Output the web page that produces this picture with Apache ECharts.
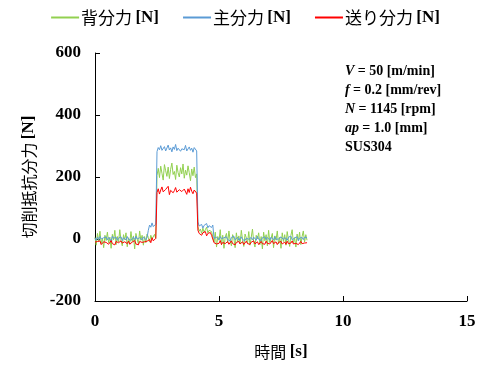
<!DOCTYPE html>
<html>
<head>
<meta charset="utf-8">
<script src="https://cdn.jsdelivr.net/npm/echarts@6/dist/echarts.min.js"></script>
<style>
html, body { margin: 0; padding: 0; background: #fff; }
#chart { width: 491px; height: 378px; }
</style>
</head>
<body>
<div id="chart"></div>
<script>
// sampling interval [s]
var dt = 0.05;

var seriesNames = ["背分力", "主分力", "送り分力"];
var xTicks = [0, 5, 10, 15];
var yTicks = [-200, 0, 200, 400, 600];

// 主分力 [N]
var mainForce = [
    3, -4, 6, -2, 8, 0, -5, 4, -1, 7,
    -3, 5, 1, -6, 9, 2, -2, 6, -4, 3,
    0, 7, -5, 4, 1, -3, 8, -1, 5, -4,
    2, 6, -2, 9, 0, -5, 4, 3, -3, 7,
    1, -2, 5,
    28, 45, 38, 52, 40, 35, 48,
    282, 295, 288, 301, 286, 292, 298, 284, 290, 303,
    287, 294, 281, 297, 289, 305, 285, 293, 299, 283,
    291, 296, 288, 302, 284, 290, 297, 286, 293, 280,
    295, 289, 284,
    55, 42, 38, 47, 35, 44, 39, 50, 36, 43, 40, 37, 45,
    2, -4, 6, 0, -3, 8, 1, -5, 4, -1,
    7, -2, 3, -6, 5, 0, 9, -3, 2, 6,
    -4, 1, 7, -2, 4, -5, 3, 8, -1, 0,
    5, -3, 6, 2, -4, 9, -1, 3, -5, 4,
    1, 7, -2, 5, 0, -4, 6, 2, -3, 8,
    -1, 4, 0, -5, 7, 3, -2, 5, 1, -4,
    6, 0, 9, -3, 2, 4, -1, 7, -5, 3,
    1, 5, -2, 6, 0, 4
];

// 背分力 [N]
var backForce = [
    5, -20, 18, -8, 25, -15, 2, -28, 12, -5,
    22, -12, 6, -30, 15, -3, 28, -18, 8, -10,
    30, -6, -22, 14, -2, 20, -25, 4, -14, 24,
    -8, 10, -32, 18, 0, -16, 26, -4, 12, -20,
    8, -12, 16,
    5, -10, 12, 0, -6, 15, 2,
    205, 228, 198, 235, 212, 190, 240, 220, 202, 232,
    195, 225, 245, 208, 218, 192, 238, 214, 200, 230,
    210, 242, 196, 222, 206, 236, 214, 188, 226, 204,
    232, 198, 210,
    40, 25, 32, 18, 35, 22, 30, 38, 20, 28, 34, 24, 30,
    -10, 22, -26, 8, -4, 30, -18, 12, -30, 6,
    18, -12, 26, -6, -22, 14, 2, -28, 20, -8,
    10, -16, 28, -2, -24, 16, 4, -14, 24, -20,
    6, 32, -10, -26, 12, 0, 20, -18, 8, -32,
    22, -6, 14, -22, 28, -12, 2, 18, -28, 10,
    -4, 26, -16, 6, -30, 20, -8, 14, -20, 24,
    -2, -24, 12, 30, -14, 4, -26, 16, -6, 22,
    -18, 8, 26, -10, 14, -4
];

// 送り分力 [N]
var feedForce = [
    -10, -16, -8, -14, -6, -18, -12, -9, -15, -11,
    -7, -17, -13, -5, -15, -10, -19, -8, -14, -12,
    -16, -6, -13, -18, -9, -11, -15, -7, -17, -12,
    -10, -14, -5, -16, -12, -19, -8, -13, -11, -15,
    -9, -14, -7,
    -8, -2, -12, 4, -6, -10, 2,
    150, 162, 145, 158, 168, 152, 147, 160, 155, 170,
    143, 157, 163, 149, 156, 166, 151, 146, 159, 164,
    153, 148, 161, 157, 144, 162, 150, 167, 154, 146,
    158, 152, 148,
    28, 18, 22, 12, 20, 15, 24, 10, 18, 14, 21, 12, 16,
    -12, -7, -16, -10, -14, -5, -18, -11, -9, -15,
    -13, -8, -17, -12, -6, -15, -10, -19, -11, -14,
    -8, -16, -12, -9, -18, -13, -7, -15, -11, -17,
    -10, -14, -6, -16, -12, -9, -18, -13, -8, -15,
    -11, -17, -7, -14, -10, -16, -12, -5, -15, -13,
    -9, -18, -11, -14, -8, -16, -12, -10, -17, -7,
    -15, -11, -13, -6, -16, -10, -14, -9, -18, -12,
    -8, -15, -11, -13, -7, -12
];

var colors = ["#92d050", "#5b9bd5", "#ff0000"];
var serif = "Liberation Serif";
var jp = "Noto Sans CJK JP";

function toPairs(values) {
    var pairs = [];
    for (var i = 0; i < values.length; i++) {
        pairs.push([+(i * dt).toFixed(2), values[i]]);
    }
    return pairs;
}

var chart = echarts.init(document.getElementById("chart"));

var option = {
    animation: false,
    color: colors,
    legend: {
        top: 4,
        left: "center",
        itemGap: 24,
        itemWidth: 28,
        itemHeight: 2,
        icon: "rect",
        data: seriesNames,
        formatter: function(name) {
            return "{a|" + name + "} {b|[N]}";
        },
        textStyle: {
            padding: [0, 0, 0, -3],
            rich: {
                a: { fontFamily: jp, fontSize: 17, color: "#000" },
                b: { fontFamily: serif, fontSize: 17, fontWeight: "bold", color: "#000" }
            }
        }
    },
    grid: {
        left: 95,
        right: 24,
        top: 53,
        bottom: 77
    },
    xAxis: {
        type: "value",
        min: xTicks[0],
        max: xTicks[xTicks.length - 1],
        interval: 5,
        name: "{a|時間} {b|[s]}",
        nameLocation: "middle",
        nameGap: 42,
        nameTextStyle: {
            rich: {
                a: { fontFamily: jp, fontSize: 16, color: "#000" },
                b: { fontFamily: serif, fontSize: 17, fontWeight: "bold", color: "#000" }
            }
        },
        axisLine: { onZero: false, lineStyle: { color: "#000", width: 1 } },
        axisTick: { inside: true, length: 5, lineStyle: { color: "#000" } },
        axisLabel: { fontFamily: serif, fontSize: 17, fontWeight: "bold", color: "#000", margin: 12 },
        splitLine: { show: false }
    },
    yAxis: {
        type: "value",
        min: yTicks[0],
        max: yTicks[yTicks.length - 1],
        interval: 200,
        name: "{a|切削抵抗分力} {b|[N]}",
        nameLocation: "middle",
        nameGap: 58,
        nameRotate: 90,
        nameTextStyle: {
            rich: {
                a: { fontFamily: jp, fontSize: 16, color: "#000" },
                b: { fontFamily: serif, fontSize: 17, fontWeight: "bold", color: "#000" }
            }
        },
        axisLine: { show: true, onZero: false, lineStyle: { color: "#000", width: 1 } },
        axisTick: { show: true, inside: true, length: 5, lineStyle: { color: "#000" } },
        axisLabel: { fontFamily: serif, fontSize: 17, fontWeight: "bold", color: "#000", margin: 14 },
        splitLine: { show: false }
    },
    graphic: [{
        type: "text",
        left: 345,
        top: 64,
        style: {
            text: [
                "{i|V} {n|= 50 [m/min]}",
                "{i|f} {n|= 0.2 [mm/rev]}",
                "{i|N} {n|= 1145 [rpm]}",
                "{i|ap} {n|= 1.0 [mm]}",
                "{n|SUS304}"
            ].join("\n"),
            rich: {
                i: { fontFamily: serif, fontSize: 14, fontWeight: "bold", fontStyle: "italic", fill: "#000", lineHeight: 19 },
                n: { fontFamily: serif, fontSize: 14, fontWeight: "bold", fill: "#000", lineHeight: 19 }
            }
        }
    }],
    series: [{
        name: seriesNames[0],
        type: "line",
        showSymbol: false,
        lineStyle: { width: 1 },
        data: toPairs(backForce)
    }, {
        name: seriesNames[1],
        type: "line",
        showSymbol: false,
        lineStyle: { width: 1 },
        data: toPairs(mainForce)
    }, {
        name: seriesNames[2],
        type: "line",
        showSymbol: false,
        lineStyle: { width: 1 },
        data: toPairs(feedForce)
    }]
};

chart.setOption(option);
</script>
</body>
</html>
